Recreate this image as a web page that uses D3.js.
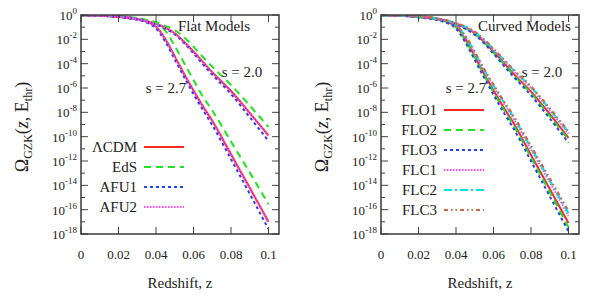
<!DOCTYPE html>
<html>
<head>
<meta charset="utf-8">
<script src="https://cdn.jsdelivr.net/npm/d3@7"></script>
<style>
  body { margin: 0; background: #fff; }
  text { font-family: "Liberation Serif", "Times New Roman", serif; fill: #222; }
</style>
</head>
<body>
<svg id="chart" width="599" height="300"></svg>
<script>
// redshift grid the curves were read at
const zValues = [0, 0.01, 0.02, 0.025, 0.03, 0.035, 0.04, 0.045, 0.05, 0.055, 0.06, 0.065, 0.07, 0.08, 0.09, 0.1];

// log10 of Omega_GZK, s = 2.7 and s = 2.0
// flat models
const lcdm27 = [-0.02,-0.06,-0.17,-0.25,-0.36,-0.55,-0.95,-2.0,-3.4,-4.85,-6.2,-7.5,-8.7,-11.45,-14.2,-17.0];
const lcdm20 = [-0.02,-0.05,-0.12,-0.18,-0.3,-0.48,-0.72,-1.05,-1.5,-2.2,-3.0,-3.85,-4.7,-6.25,-8.05,-9.9];
const eds27  = [-0.02,-0.05,-0.14,-0.2,-0.3,-0.45,-0.7,-1.3,-2.55,-3.95,-5.35,-6.7,-7.85,-10.4,-12.95,-15.55];
const eds20  = [-0.02,-0.04,-0.1,-0.16,-0.25,-0.4,-0.6,-0.9,-1.25,-1.85,-2.6,-3.45,-4.25,-5.75,-7.45,-9.2];
const afu1_27 = [-0.02,-0.06,-0.18,-0.27,-0.4,-0.62,-1.1,-2.2,-3.65,-5.1,-6.5,-7.8,-9.05,-11.85,-14.7,-17.6];
const afu1_20 = [-0.02,-0.05,-0.13,-0.2,-0.33,-0.52,-0.78,-1.12,-1.6,-2.3,-3.15,-4.05,-4.9,-6.5,-8.4,-10.35];
const afu2_27 = [-0.02,-0.06,-0.17,-0.25,-0.37,-0.56,-0.97,-2.02,-3.42,-4.88,-6.23,-7.53,-8.74,-11.5,-14.25,-17.05];
const afu2_20 = [-0.02,-0.05,-0.12,-0.18,-0.3,-0.49,-0.73,-1.06,-1.52,-2.22,-3.02,-3.87,-4.73,-6.28,-8.08,-9.93];
// curved models
const flo1_27 = [-0.02,-0.06,-0.17,-0.25,-0.36,-0.55,-0.95,-2.0,-3.4,-4.85,-6.2,-7.5,-8.72,-11.5,-14.3,-17.1];
const flo1_20 = [-0.02,-0.05,-0.12,-0.18,-0.3,-0.48,-0.72,-1.05,-1.5,-2.2,-3.0,-3.85,-4.72,-6.3,-8.15,-10.1];
const flo2_27 = [-0.02,-0.06,-0.18,-0.26,-0.38,-0.58,-1.0,-2.1,-3.5,-4.95,-6.35,-7.65,-8.9,-11.7,-14.55,-17.45];
const flo2_20 = [-0.02,-0.05,-0.12,-0.19,-0.31,-0.5,-0.75,-1.08,-1.55,-2.25,-3.08,-3.95,-4.82,-6.42,-8.3,-10.25];
const flo3_27 = [-0.02,-0.06,-0.19,-0.28,-0.41,-0.64,-1.12,-2.25,-3.7,-5.15,-6.55,-7.9,-9.15,-12.0,-14.9,-17.8];
const flo3_20 = [-0.02,-0.05,-0.13,-0.2,-0.33,-0.53,-0.8,-1.14,-1.62,-2.33,-3.18,-4.08,-4.95,-6.6,-8.5,-10.5];
const flc1_27 = [-0.02,-0.05,-0.15,-0.22,-0.33,-0.5,-0.85,-1.8,-3.15,-4.6,-5.9,-7.15,-8.35,-11.05,-13.75,-16.5];
const flc1_20 = [-0.02,-0.04,-0.11,-0.17,-0.28,-0.45,-0.68,-1.0,-1.42,-2.08,-2.85,-3.68,-4.5,-6.0,-7.85,-9.75];
const flc2_27 = [-0.02,-0.05,-0.15,-0.21,-0.32,-0.48,-0.82,-1.75,-3.08,-4.5,-5.8,-7.05,-8.22,-10.9,-13.6,-16.3];
const flc2_20 = [-0.02,-0.04,-0.1,-0.16,-0.27,-0.44,-0.66,-0.98,-1.4,-2.05,-2.8,-3.62,-4.43,-5.92,-7.75,-9.65];
const flc3_27 = [-0.02,-0.05,-0.14,-0.2,-0.31,-0.47,-0.8,-1.7,-3.0,-4.42,-5.7,-6.95,-8.1,-10.75,-13.42,-16.1];
const flc3_20 = [-0.02,-0.04,-0.1,-0.16,-0.26,-0.43,-0.65,-0.96,-1.37,-2.02,-2.76,-3.57,-4.37,-5.85,-7.65,-9.55];

const xTicks = [0, 0.02, 0.04, 0.06, 0.08, 0.1];
const xTickLabels = ["0", "0.02", "0.04", "0.06", "0.08", "0.1"];
const yTickExps = [0, -2, -4, -6, -8, -10, -12, -14, -16, -18];

const flatNames = ["\u039bCDM", "EdS", "AFU1", "AFU2"];
const curvedNames = ["FLO1", "FLO2", "FLO3", "FLC1", "FLC2", "FLC3"];

// line styles
const styles = {
  red:     { color: "#f52a22", dash: null },
  green:   { color: "#22e022", dash: "7,5" },
  blue:    { color: "#2244f0", dash: "3,3" },
  magenta: { color: "#ff44ff", dash: "1.5,1.5" },
  cyan:    { color: "#00e0e0", dash: "8,3,2,3" },
  brown:   { color: "#c86a40", dash: "4,3,1.5,3,1.5,3" }
};

const flatSeries = [
  { name: flatNames[0], st: styles.red,     s27: lcdm27,  s20: lcdm20 },
  { name: flatNames[1], st: styles.green,   s27: eds27,   s20: eds20 },
  { name: flatNames[2], st: styles.blue,    s27: afu1_27, s20: afu1_20 },
  { name: flatNames[3], st: styles.magenta, s27: afu2_27, s20: afu2_20 }
];
const curvedSeries = [
  { name: curvedNames[0], st: styles.red,     s27: flo1_27, s20: flo1_20 },
  { name: curvedNames[1], st: styles.green,   s27: flo2_27, s20: flo2_20 },
  { name: curvedNames[2], st: styles.blue,    s27: flo3_27, s20: flo3_20 },
  { name: curvedNames[3], st: styles.magenta, s27: flc1_27, s20: flc1_20 },
  { name: curvedNames[4], st: styles.cyan,    s27: flc2_27, s20: flc2_20 },
  { name: curvedNames[5], st: styles.brown,   s27: flc3_27, s20: flc3_20 }
];

const svg = d3.select("#chart");

function drawPanel(ox, series, title, legendTop, id) {
  const left = 81, right = 279, top = 15, bottom = 234;
  const g = svg.append("g").attr("transform", "translate(" + ox + ",0)");

  const x = d3.scaleLinear().domain([0, 0.1056]).range([left, right]);
  const y = d3.scaleLog().domain([1e-18, 1]).range([bottom, top]);

  g.append("clipPath").attr("id", "clip" + id)
    .append("rect").attr("x", left).attr("y", top).attr("width", right - left).attr("height", bottom - top);

  const line = d3.line()
    .x((d, i) => x(zValues[i]))
    .y(d => y(Math.pow(10, d)))
    .curve(d3.curveMonotoneX);

  const curves = g.append("g").attr("clip-path", "url(#clip" + id + ")");
  series.forEach(s => {
    [s.s27, s.s20].forEach(vals => {
      curves.append("path")
        .attr("d", line(vals))
        .attr("fill", "none")
        .attr("stroke", s.st.color)
        .attr("stroke-width", 2)
        .attr("stroke-dasharray", s.st.dash);
    });
  });

  // ticks, mirrored on all four sides
  const tickCol = "#444";
  const yMinor = d3.range(0, -19, -1);
  yMinor.forEach(e => {
    const len = e % 2 === 0 ? 7 : 4;
    const yy = y(Math.pow(10, e));
    g.append("line").attr("x1", left).attr("x2", left + len).attr("y1", yy).attr("y2", yy).attr("stroke", tickCol);
    g.append("line").attr("x1", right).attr("x2", right - len).attr("y1", yy).attr("y2", yy).attr("stroke", tickCol);
  });
  xTicks.forEach(v => {
    g.append("line").attr("x1", x(v)).attr("x2", x(v)).attr("y1", bottom).attr("y2", bottom - 7).attr("stroke", tickCol);
    g.append("line").attr("x1", x(v)).attr("x2", x(v)).attr("y1", top).attr("y2", top + 7).attr("stroke", tickCol);
  });

  g.append("rect").attr("x", left).attr("y", top).attr("width", right - left).attr("height", bottom - top)
    .attr("fill", "none").attr("stroke", "#3a3a3a").attr("stroke-width", 1.5);

  // y tick labels 10^n
  yTickExps.forEach(e => {
    const t = g.append("text")
      .attr("x", left - 4).attr("y", y(Math.pow(10, e)) + 5)
      .attr("text-anchor", "end").attr("font-size", 13);
    t.append("tspan").text("10");
    t.append("tspan").attr("dy", -6).attr("font-size", 9).text(e);
  });

  xTicks.forEach((v, i) => {
    g.append("text").attr("x", x(v)).attr("y", 259)
      .attr("text-anchor", "middle").attr("font-size", 13).text(xTickLabels[i]);
  });

  g.append("text").attr("x", 180).attr("y", 288).attr("text-anchor", "middle")
    .attr("font-size", 15).text("Redshift, z");

  // y label
  const yl = g.append("text")
    .attr("transform", "translate(28,127) rotate(-90)")
    .attr("text-anchor", "middle").attr("font-size", 18);
  yl.append("tspan").text("\u03a9");
  yl.append("tspan").attr("dy", 4).attr("font-size", 12).text("GZK");
  yl.append("tspan").attr("dy", -4).text("(");
  yl.append("tspan").attr("font-style", "italic").text("z");
  yl.append("tspan").text(", E");
  yl.append("tspan").attr("dy", 4).attr("font-size", 12).text("thr");
  yl.append("tspan").attr("dy", -4).text(")");

  g.append("text").attr("x", 178).attr("y", 31).attr("text-anchor", "start")
    .attr("font-size", 15).text(title);

  g.append("text").attr("x", 242).attr("y", 77).attr("text-anchor", "middle").attr("font-size", 15).text("s = 2.0");
  g.append("text").attr("x", 166).attr("y", 93).attr("text-anchor", "middle").attr("font-size", 15).text("s = 2.7");

  // legend
  series.forEach((s, i) => {
    const ly = legendTop + i * 20;
    g.append("text").attr("x", 137).attr("y", ly + 5).attr("text-anchor", "end")
      .attr("font-size", 15).text(s.name);
    g.append("line").attr("x1", 144).attr("x2", 184).attr("y1", ly).attr("y2", ly)
      .attr("stroke", s.st.color).attr("stroke-width", 2).attr("stroke-dasharray", s.st.dash);
  });
}

drawPanel(0, flatSeries, "Flat Models", 147, "a");
drawPanel(300, curvedSeries, "Curved Models", 110, "b");
</script>
</body>
</html>
